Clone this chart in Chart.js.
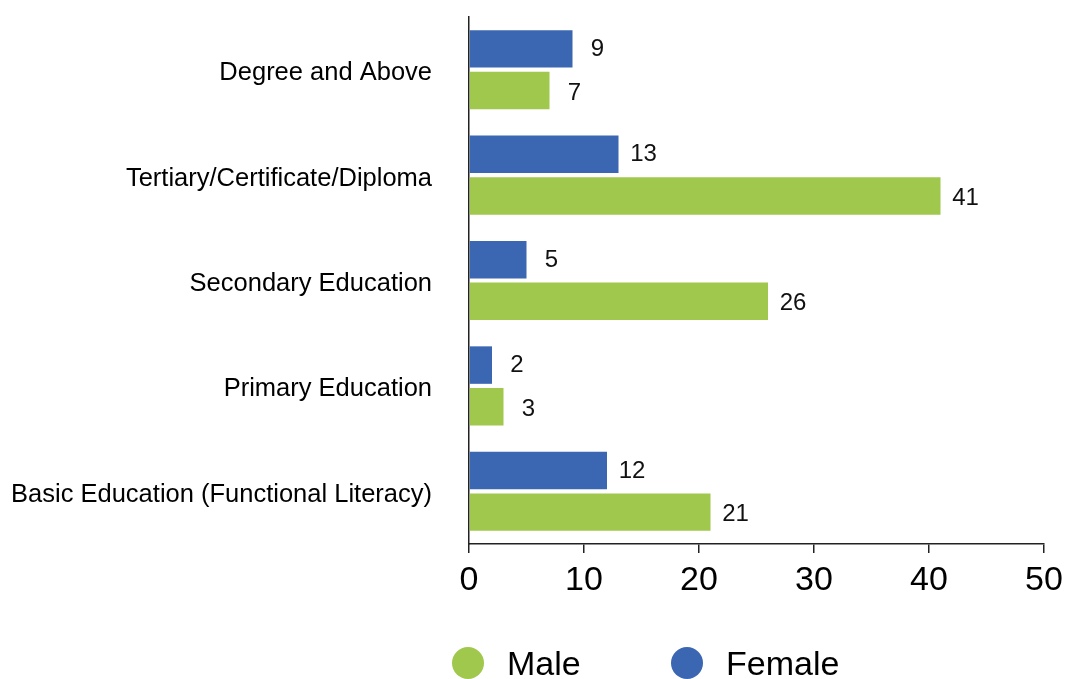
<!DOCTYPE html>
<html>
<head>
<meta charset="utf-8">
<script src="https://cdn.jsdelivr.net/npm/chart.js@4/dist/chart.umd.min.js"></script>
<style>
  html, body { margin: 0; padding: 0; background: #fff; }
  #wrap { position: relative; width: 1068px; height: 679px; overflow: hidden; }
  #c { position: absolute; left: 0; top: 0; }
  .leg { position: absolute; font-family: "Liberation Sans", Arial, Helvetica, sans-serif; font-size: 34px; color: #000; line-height: 40px; white-space: nowrap; }
  .dot { position: absolute; width: 32px; height: 32px; border-radius: 50%; }
</style>
</head>
<body>
<div id="wrap">
  <canvas id="c" width="1068" height="679"></canvas>
  <div class="dot" style="left:452px; top:647px; background:#A0C84D"></div>
  <div class="leg" style="left:507px; top:643px;">Male</div>
  <div class="dot" style="left:671px; top:647px; background:#3B66B1"></div>
  <div class="leg" style="left:726px; top:643px;">Female</div>
</div>
<script>
const categories = ["Degree and Above", "Tertiary/Certificate/Diploma", "Secondary Education", "Primary Education", "Basic Education (Functional Literacy)"];
const femaleValues = [9, 13, 5, 2, 12];
const maleValues = [7, 41, 26, 3, 21];
const xTicks = [0, 10, 20, 30, 40, 50];

const FONT = '"Liberation Sans", Arial, Helvetica, sans-serif';

const valueLabels = {
  id: 'valueLabels',
  afterDatasetsDraw(chart) {
    const ctx = chart.ctx;
    ctx.save();
    ctx.font = '24px ' + FONT;
    ctx.fillStyle = '#111';
    ctx.textAlign = 'center';
    ctx.textBaseline = 'middle';
    chart.data.datasets.forEach((ds, di) => {
      const meta = chart.getDatasetMeta(di);
      const dy = di === 1 ? 2.5 : 0.5;
      meta.data.forEach((bar, i) => {
        ctx.fillText(String(ds.data[i]), bar.x + 25, bar.y + dy);
      });
    });
    ctx.restore();
  }
};

new Chart(document.getElementById('c'), {
  type: 'bar',
  data: {
    labels: categories,
    datasets: [
      { label: 'Female', data: femaleValues, backgroundColor: '#3B66B1', categoryPercentage: 0.79, barPercentage: 0.9 },
      { label: 'Male', data: maleValues, backgroundColor: '#A0C84D', categoryPercentage: 0.79, barPercentage: 0.9 }
    ]
  },
  options: {
    indexAxis: 'y',
    responsive: false,
    animation: false,
    layout: { padding: { top: 17, right: 24, bottom: 75, left: 0 } },
    plugins: { legend: { display: false }, tooltip: { enabled: false } },
    scales: {
      x: {
        min: 0, max: 50,
        afterBuildTicks(scale) { scale.ticks = xTicks.map(v => ({ value: v })); },
        afterFit(scale) { scale.height = 60; scale.paddingLeft = 0; scale.paddingRight = 0; },
        grid: { drawOnChartArea: false, drawTicks: true, tickLength: 9, color: '#222', lineWidth: 1.5 },
        border: { display: true, color: '#222', width: 1.5 },
        ticks: { font: { size: 34, family: FONT }, color: '#000', padding: 7, maxRotation: 0 }
      },
      y: {
        afterFit(scale) { scale.width = 469; scale.paddingTop = 0; scale.paddingBottom = 0; },
        grid: { display: false, drawTicks: false },
        border: { display: true, color: '#222', width: 1.5 },
        ticks: { font: { size: 25.5, family: FONT }, color: '#000', padding: 37, labelOffset: 3.5 }
      }
    }
  },
  plugins: [valueLabels]
});
</script>
</body>
</html>
